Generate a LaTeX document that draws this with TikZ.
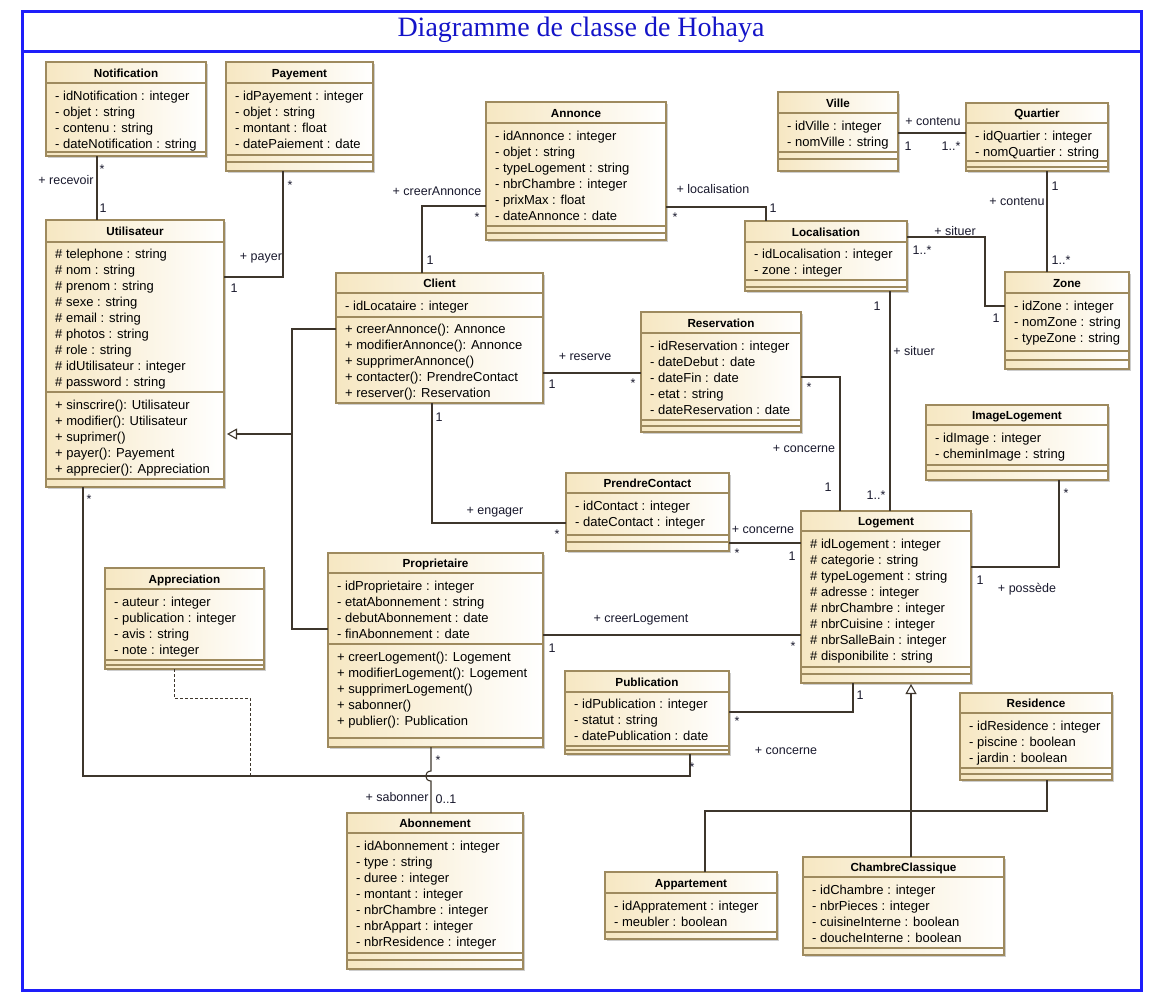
\documentclass[tikz,border=0pt]{standalone}
\usepackage{fontspec}
\setmainfont{Liberation Sans}
\newfontfamily\titlefont{Liberation Serif}
\usetikzlibrary{arrows.meta}
\definecolor{tanL}{RGB}{246,231,194}
\definecolor{bordc}{RGB}{158,138,94}
\definecolor{shadc}{RGB}{205,205,205}
\definecolor{linec}{RGB}{62,54,44}
\definecolor{framec}{RGB}{30,30,250}
\definecolor{titlec}{RGB}{20,20,200}
\definecolor{labc}{RGB}{25,25,45}
\tikzset{
  attr/.style={anchor=west, inner sep=0, font=\fontsize{13}{15}\selectfont, text height=9.5pt, text depth=2.5pt},
  hdr/.style={inner sep=0, font=\fontsize{11.7}{14}\bfseries\selectfont, text height=9pt, text depth=2.5pt},
  lab/.style={inner sep=0, font=\fontsize{12.5}{14}\selectfont, text=labc},
  assoc/.style={draw=linec, line width=1.1pt},
  gen/.style={draw=linec, line width=1.1pt, -{Triangle[open, length=10pt, width=11pt, fill=white]}},
  sepl/.style={draw=bordc, line width=1.1pt},
}
\newcommand\ubox[7]{%
  \fill[shadc] (#2+2,#3+2) rectangle (#4+2,#5+2);
  \shade[left color=tanL, right color=white] (#2,#3) rectangle (#4,#5);
  \node[draw=bordc, line width=1.1pt, inner sep=0, outer sep=0, anchor=north west,
        minimum width={(#4-#2)*1pt}, minimum height={(#5-#3)*1pt}] (#1) at (#2,#3) {};
  \draw[sepl] (#2,#7) -- (#4,#7);
  \node[hdr] (#1-h) at ({(#2+#4)/2},{(#3+#7)/2+1.5}) {#6};
}
\newcommand\useps[3]{\foreach \s in {#3} {\draw[sepl] (#1,\s) -- (#2,\s);}}
\newcommand\ulines[4]{\foreach \t [count=\i from 0] in {#4} {\node[attr] (#1-l#2-\i) at (#2+9,{#3+1.8+16*\i}) {\t};}}
\begin{document}
\begin{tikzpicture}[x=1pt,y=-1pt]
\useasboundingbox (0,0) rectangle (1162,1001);
\fill[white] (0,0) rectangle (1162,1001);
% frame
\draw[framec, line width=3pt] (22,11) rectangle (1141,990);
\draw[framec, line width=3pt] (22,51) -- (1141,51);
\node[inner sep=0, text=titlec, font=\titlefont\fontsize{28}{30}\selectfont] (title) at (581,30) {Diagramme de classe de Hohaya};

% classes
\ubox{notif}{46}{62}{206}{156}{Notification}{83}
\useps{46}{206}{152}
\ulines{notif}{46}{95}{- idNotification : integer, - objet : string, - contenu : string, - dateNotification : string}

\ubox{paye}{226}{62}{373}{171}{Payement}{83}
\useps{226}{373}{155,162}
\ulines{paye}{226}{95}{- idPayement : integer, - objet : string, - montant : float, - datePaiement : date}

\ubox{util}{46}{220}{224}{487}{Utilisateur}{242}
\useps{46}{224}{392,479}
\ulines{util}{46}{253}{\# telephone : string, \# nom : string, \# prenom : string, \# sexe : string, \# email : string, \# photos : string, \# role : string, \# idUtilisateur : integer, \# password : string}
\ulines{utilo}{46}{404}{+ sinscrire(): Utilisateur, + modifier(): Utilisateur, + suprimer(), + payer(): Payement, + apprecier(): Appreciation}

\ubox{annonce}{486}{102}{666}{240}{Annonce}{123}
\useps{486}{666}{226,233}
\ulines{annonce}{486}{135}{- idAnnonce : integer, - objet : string, - typeLogement : string, - nbrChambre : integer, - prixMax : float, - dateAnnonce : date}

\ubox{client}{336}{273}{543}{403}{Client}{293}
\useps{336}{543}{317}
\ulines{client}{336}{305}{- idLocataire : integer}
\ulines{cliento}{336}{328}{+ creerAnnonce(): Annonce, + modifierAnnonce(): Annonce, + supprimerAnnonce(), + contacter(): PrendreContact, + reserver(): Reservation}

\ubox{ville}{778}{92}{898}{171}{Ville}{113}
\useps{778}{898}{152,159}
\ulines{ville}{778}{125}{- idVille : integer, - nomVille : string}

\ubox{quart}{966}{103}{1108}{171}{Quartier}{123}
\useps{966}{1108}{161,167}
\ulines{quart}{966}{135}{- idQuartier : integer, - nomQuartier : string}

\ubox{loc}{745}{221}{907}{291}{Localisation}{242}
\useps{745}{907}{280,287}
\ulines{loc}{745}{253}{- idLocalisation : integer, - zone : integer}

\ubox{zone}{1005}{272}{1129}{369}{Zone}{293}
\useps{1005}{1129}{351,360}
\ulines{zone}{1005}{305}{- idZone : integer, - nomZone : string, - typeZone : string}

\ubox{resa}{641}{312}{801}{432}{Reservation}{333}
\useps{641}{801}{420,426}
\ulines{resa}{641}{345}{- idReservation : integer, - dateDebut : date, - dateFin : date, - etat : string, - dateReservation : date}

\ubox{image}{926}{405}{1108}{480}{ImageLogement}{425}
\useps{926}{1108}{465,471}
\ulines{image}{926}{437}{- idImage : integer, - cheminImage : string}

\ubox{contact}{566}{473}{729}{551}{PrendreContact}{493}
\useps{566}{729}{535,542}
\ulines{contact}{566}{505}{- idContact : integer, - dateContact : integer}

\ubox{logement}{801}{511}{971}{683}{Logement}{531}
\useps{801}{971}{667,674}
\ulines{logement}{801}{543}{\# idLogement : integer, \# categorie : string, \# typeLogement : string, \# adresse : integer, \# nbrChambre : integer, \# nbrCuisine : integer, \# nbrSalleBain : integer, \# disponibilite : string}

\ubox{prop}{328}{553}{543}{747}{Proprietaire}{573}
\useps{328}{543}{644,738}
\ulines{prop}{328}{585}{- idProprietaire : integer, - etatAbonnement : string, - debutAbonnement : date, - finAbonnement : date}
\ulines{propo}{328}{656}{+ creerLogement(): Logement, + modifierLogement(): Logement, + supprimerLogement(), + sabonner(), + publier(): Publication}

\ubox{apprec}{105}{568}{264}{669}{Appreciation}{589}
\useps{105}{264}{660,665}
\ulines{apprec}{105}{601}{- auteur : integer, - publication : integer, - avis : string, - note : integer}

\ubox{pub}{565}{671}{729}{754}{Publication}{692}
\useps{565}{729}{746,750}
\ulines{pub}{565}{703}{- idPublication : integer, - statut : string, - datePublication : date}

\ubox{resid}{960}{693}{1112}{780}{Residence}{713}
\useps{960}{1112}{768,774}
\ulines{resid}{960}{725}{- idResidence : integer, - piscine : boolean, - jardin : boolean}

\ubox{abon}{347}{813}{523}{969}{Abonnement}{833}
\useps{347}{523}{953,960}
\ulines{abon}{347}{845}{- idAbonnement : integer, - type : string, - duree : integer, - montant : integer, - nbrChambre : integer, - nbrAppart : integer, - nbrResidence : integer}

\ubox{appart}{605}{872}{777}{939}{Appartement}{893}
\useps{605}{777}{932}
\ulines{appart}{605}{905}{- idAppratement : integer, - meubler : boolean}

\ubox{chambre}{803}{857}{1004}{955}{ChambreClassique}{877}
\useps{803}{1004}{948}
\ulines{chambre}{803}{889}{- idChambre : integer, - nbrPieces : integer, - cuisineInterne : boolean, - doucheInterne : boolean}

% connectors
\draw[assoc] (notif.south -| 97,0) -- (util.north -| 97,0);
\draw[assoc] (paye.south -| 283,0) |- (util.east |- 0,277);
\draw[assoc] (client.north -| 422,0) |- (annonce.west |- 0,206);
\draw[assoc] (annonce.east |- 0,207) -| (loc.north -| 766,0);
\draw[assoc] (ville.east |- 0,133) -- (quart.west |- 0,133);
\draw[assoc] (quart.south -| 1047,0) -- (zone.north -| 1047,0);
\draw[assoc] (loc.east |- 0,237) -| (985,306) -- (zone.west |- 0,306);
\draw[assoc] (loc.south -| 890,0) -- (logement.north -| 890,0);
\draw[assoc] (resa.east |- 0,377) -| (logement.north -| 840,0);
\draw[assoc] (client.east |- 0,373) -- (resa.west |- 0,373);
\draw[assoc] (client.south -| 432,0) |- (contact.west |- 0,523);
\draw[assoc] (contact.east |- 0,543) -- (logement.west |- 0,543);
\draw[assoc] (prop.east |- 0,635) -- (logement.west |- 0,635);
\draw[assoc] (image.south -| 1059,0) |- (logement.east |- 0,567);
\draw[assoc] (pub.east |- 0,712) -| (logement.south -| 853,0);
\draw[assoc] (client.west |- 0,329) -| (292,629) -- (prop.west |- 0,629);
\draw[gen, shorten >=3pt] (292,434) -- (util.east |- 0,434);
\draw[assoc] (util.south -| 83,0) |- (690,776) -- (pub.south -| 690,0);
\draw[assoc] (prop.south -| 431,0) -- (431,771) .. controls (424,771) and (424,781) .. (431,781) -- (abon.north -| 431,0);
\draw[draw=linec, line width=0.9pt, dash pattern=on 3pt off 2pt] (apprec.south -| 174,0) |- (250,698) -- (250,776);
\draw[gen, shorten >=1pt] (chambre.north -| 911,0) -- (logement.south -| 911,0);
\draw[assoc] (appart.north -| 705,0) |- (1047,811) -- (resid.south -| 1047,0);

% labels
\node[lab] (l1) at (66,180) {+ recevoir};
\node[lab] (l2) at (102,169) {*};
\node[lab] (l3) at (103,208) {1};
\node[lab] (l4) at (290,185) {*};
\node[lab] (l5) at (261,258) {+ payer};
\node[lab] (l6) at (234,288) {1};
\node[lab] (l7) at (437,191) {+ creerAnnonce};
\node[lab] (l8) at (477,217) {*};
\node[lab] (l9) at (430,260) {1};
\node[lab] (l10) at (713,189) {+ localisation};
\node[lab] (l11) at (675,217) {*};
\node[lab] (l12) at (773,208) {1};
\node[lab] (l13) at (933,122) {+ contenu};
\node[lab] (l14) at (908,146) {1};
\node[lab] (l15) at (951,146) {1..*};
\node[lab] (l16) at (1055,186) {1};
\node[lab] (l17) at (1017,202) {+ contenu};
\node[lab] (l18) at (1061,260) {1..*};
\node[lab] (l19) at (955,231) {+ situer};
\node[lab] (l20) at (922,250) {1..*};
\node[lab] (l21) at (996,318) {1};
\node[lab] (l22) at (877,306) {1};
\node[lab] (l23) at (914,351) {+ situer};
\node[lab] (l24) at (876,495) {1..*};
\node[lab] (l25) at (809,387) {*};
\node[lab] (l26) at (804,449) {+ concerne};
\node[lab] (l27) at (828,487) {1};
\node[lab] (l28) at (585,357) {+ reserve};
\node[lab] (l29) at (552,384) {1};
\node[lab] (l30) at (633,383) {*};
\node[lab] (l31) at (439,417) {1};
\node[lab] (l32) at (495,512) {+ engager};
\node[lab] (l33) at (557,534) {*};
\node[lab] (l34) at (763,530) {+ concerne};
\node[lab] (l35) at (737,553) {*};
\node[lab] (l36) at (792,556) {1};
\node[lab] (l37) at (641,619) {+ creerLogement};
\node[lab] (l38) at (552,648) {1};
\node[lab] (l39) at (793,646) {*};
\node[lab] (l40) at (1066,493) {*};
\node[lab] (l41) at (980,580) {1};
\node[lab] (l42) at (1027,589) {+ possède};
\node[lab] (l43) at (860,695) {1};
\node[lab] (l44) at (737,721) {*};
\node[lab] (l45) at (786,751) {+ concerne};
\node[lab] (l46) at (89,499) {*};
\node[lab] (l47) at (692,767) {*};
\node[lab] (l48) at (438,760) {*};
\node[lab] (l49) at (397,797) {+ sabonner};
\node[lab] (l50) at (446,799) {0..1};
\end{tikzpicture}
\end{document}
